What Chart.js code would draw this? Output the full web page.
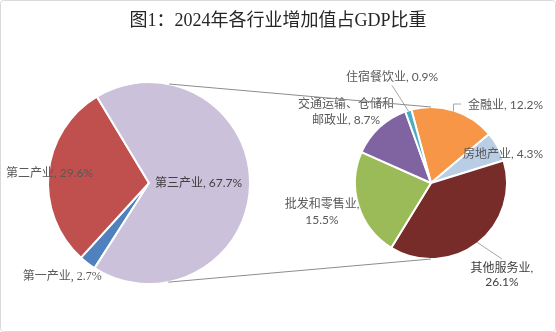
<!DOCTYPE html>
<html>
<head>
<meta charset="utf-8">
<script src="https://cdn.jsdelivr.net/npm/chart.js@4"></script>
<style>
  body { margin: 0; background: #fff; }
  #wrap { position: relative; width: 556px; height: 332px; }
  canvas { position: absolute; left: 0; top: 0; }
</style>
</head>
<body>
<div id="wrap">
  <canvas id="leftPie" width="556" height="332"></canvas>
  <canvas id="rightPie" width="556" height="332"></canvas>
</div>
<script>
"use strict";

const title = "图1：2024年各行业增加值占GDP比重";

// left pie: the three sectors
const industries = ["第一产业", "第二产业", "第三产业"];
const industryShares = [2.7, 29.6, 67.7];
const industryColors = ["#4F81BD", "#C0504D", "#CCC1DA"];

// right pie: split of 第三产业
const services = ["金融业", "房地产业", "其他服务业", "批发和零售业", "交通运输、仓储和邮政业", "住宿餐饮业"];
const serviceShares = [12.2, 4.3, 26.1, 15.5, 8.7, 0.9];
const serviceColors = ["#F79646", "#B9CDE5", "#772C2A", "#9BBB59", "#8064A2", "#4BACC6"];

const sansFont = '12px Lato, "Noto Sans CJK SC", sans-serif';
const serifFont = '12px "Liberation Serif", "Noto Sans CJK SC", serif';

// frame + title, drawn on the bottom canvas
const frame = {
  id: "frame",
  beforeDraw(chart) {
    const ctx = chart.ctx;
    ctx.save();
    ctx.strokeStyle = "#D9D9D9";
    ctx.lineWidth = 1;
    ctx.beginPath();
    ctx.roundRect(0.5, 0.5, chart.width - 1, chart.height - 1, 3);
    ctx.stroke();
    ctx.fillStyle = "#262626";
    ctx.font = '18px "Liberation Serif", "Noto Sans CJK SC", serif';
    ctx.textAlign = "center";
    ctx.textBaseline = "middle";
    ctx.fillText(title, chart.width / 2, 21);
    ctx.restore();
  }
};

// data labels with optional leader lines
const sliceLabels = {
  id: "sliceLabels",
  afterDatasetsDraw(chart, args, opts) {
    const ctx = chart.ctx;
    const arcs = chart.getDatasetMeta(0).data;
    const names = chart.data.labels;
    const values = chart.data.datasets[0].data;
    ctx.save();
    opts.items.forEach((it, i) => {
      const arc = arcs[i];
      const r = arc.outerRadius;
      const text = names[i] + ", " + values[i] + "%";
      const lines = it.wrap ? [text.slice(0, it.wrap), text.slice(it.wrap).trim()] : [text];
      const lh = it.lineHeight || 16;
      const x = arc.x + it.fx * r;
      const y = arc.y + it.fy * r;
      const top = y - (lines.length - 1) * lh / 2;

      ctx.font = it.font || sansFont;
      ctx.fillStyle = it.color || "#595959";
      ctx.textAlign = it.align || "center";
      ctx.textBaseline = "middle";
      lines.forEach((ln, k) => ctx.fillText(ln, x, top + k * lh));

      if (it.leader) {
        const mid = (arc.startAngle + arc.endAngle) / 2;
        const ex = arc.x + Math.cos(mid) * r * 0.99;
        const ey = arc.y + Math.sin(mid) * r * 0.99;
        ctx.strokeStyle = "#A6A6A6";
        ctx.lineWidth = 1;
        ctx.beginPath();
        ctx.moveTo(ex, ey);
        if (it.leader === "elbow") {
          ctx.lineTo(ex, y - 1);
          ctx.lineTo(x - 7, y - 1);
        } else if (it.leader === "above") {
          ctx.lineTo(x, top - 9);
        } else {
          ctx.lineTo(x, y + 8);
        }
        ctx.stroke();
      }
    });
    ctx.restore();
  }
};

// lines joining the two pies
const connectors = {
  id: "connectors",
  afterDraw(chart, args, opts) {
    const left = Chart.getChart("leftPie");
    if (!left) return;
    const a = left.getDatasetMeta(0).data[0];
    const b = chart.getDatasetMeta(0).data[0];
    const ctx = chart.ctx;
    ctx.save();
    ctx.strokeStyle = "#8C8C8C";
    ctx.lineWidth = 1;
    ctx.beginPath();
    opts.angles.forEach((deg, k) => {
      const t = deg * Math.PI / 180;
      ctx.moveTo(a.x + Math.cos(t) * a.outerRadius, a.y + Math.sin(t) * a.outerRadius);
      ctx.lineTo(b.x, b.y + (k === 0 ? -1 : 1) * b.outerRadius);
    });
    ctx.stroke();
    ctx.restore();
  }
};

new Chart(document.getElementById("leftPie"), {
  type: "pie",
  data: {
    labels: industries,
    datasets: [{ data: industryShares, backgroundColor: industryColors, borderColor: "#fff", borderWidth: 2 }]
  },
  options: {
    responsive: false,
    animation: false,
    events: [],
    rotation: 212.6,
    radius: 101,
    layout: { padding: { left: 39, right: 297, top: 73, bottom: 39 } },
    plugins: {
      legend: { display: false },
      tooltip: { enabled: false },
      sliceLabels: {
        items: [
          { fx: -1.25, fy: 0.93, align: "left", font: serifFont },
          { fx: -1.416, fy: -0.1, align: "left" },
          { fx: 0.06, fy: 0.0, align: "left", color: "#404040" }
        ]
      }
    }
  },
  plugins: [frame, sliceLabels]
});

new Chart(document.getElementById("rightPie"), {
  type: "pie",
  data: {
    labels: services,
    datasets: [{ data: serviceShares, backgroundColor: serviceColors, borderColor: "#fff", borderWidth: 2 }]
  },
  options: {
    responsive: false,
    animation: false,
    events: [],
    rotation: -15,
    radius: 76,
    layout: { padding: { left: 351, right: 45, top: 103, bottom: 69 } },
    plugins: {
      legend: { display: false },
      tooltip: { enabled: false },
      connectors: { angles: [-78.5, 79] },
      sliceLabels: {
        items: [
          { fx: 0.487, fy: -1.026, align: "left", leader: "elbow" },
          { fx: 0.421, fy: -0.382, align: "left" },
          { fx: 0.934, fy: 1.21, wrap: 6, lineHeight: 14, color: "#404040", leader: "above" },
          { fx: -1.434, fy: 0.38, wrap: 7 },
          { fx: -1.118, fy: -0.934, wrap: 8 },
          { fx: -0.513, fy: -1.39, leader: "below" }
        ]
      }
    }
  },
  plugins: [sliceLabels, connectors]
});
</script>
</body>
</html>
